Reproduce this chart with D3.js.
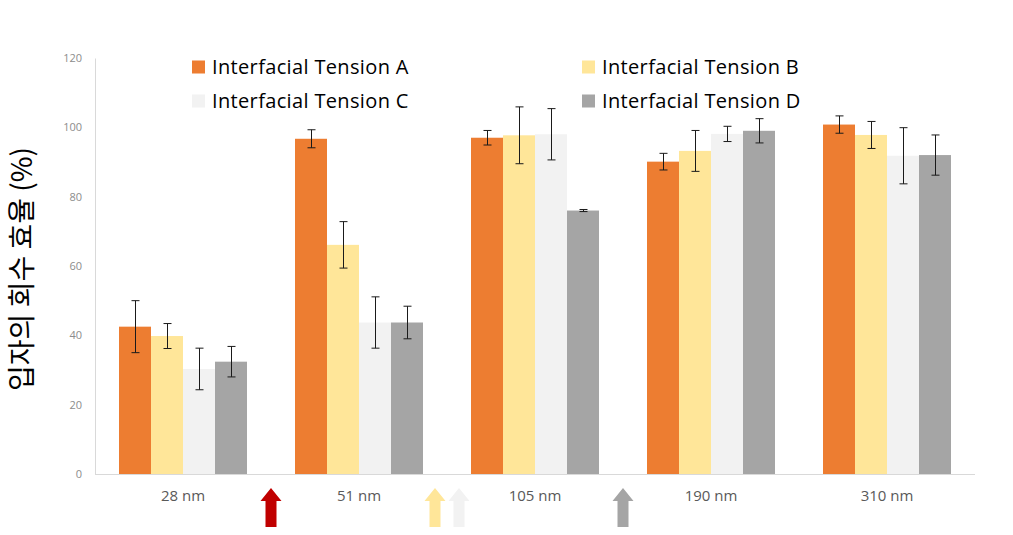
<!DOCTYPE html>
<html><head><meta charset="utf-8">
<script src="https://cdn.jsdelivr.net/npm/d3@7"></script>
<style>body{margin:0;background:#fff}svg{display:block}</style>
</head><body>
<svg id="chart" width="1013" height="535"></svg>
<script>
const categories = ["28 nm", "51 nm", "105 nm", "190 nm", "310 nm"];
const seriesNames = ["Interfacial Tension A", "Interfacial Tension B", "Interfacial Tension C", "Interfacial Tension D"];
const valuesA = [42.5, 96.7, 97.0, 90.1, 100.8];
const valuesB = [39.8, 66.1, 97.7, 93.2, 97.8];
const valuesC = [30.3, 43.7, 98.0, 98.1, 91.8];
const valuesD = [32.4, 43.7, 76.0, 99.0, 92.0];
const errorsA = [7.5, 2.6, 2.1, 2.4, 2.5];
const errorsB = [3.6, 6.7, 8.2, 5.9, 3.9];
const errorsC = [6.0, 7.4, 7.4, 2.2, 8.1];
const errorsD = [4.4, 4.7, 0.3, 3.5, 5.8];
const yTicks = [0, 20, 40, 60, 80, 100, 120];
const yTitle = "입자의 회수 효율 (%)";
const colors = ["#ED7D31", "#FFE699", "#F2F2F2", "#A5A5A5"];
const arrowCats = [{pos: 0.5, color: "#C00000"}, {pos: 1.5, color: "#FFE699", dx: -12}, {pos: 1.5, color: "#F2F2F2", dx: 12}, {pos: 2.5, color: "#A5A5A5"}];

const values = [valuesA, valuesB, valuesC, valuesD];
const errors = [errorsA, errorsB, errorsC, errorsD];

const svg = d3.select("#chart");
const m = {left: 95, right: 975, top: 58, bottom: 474};
const x = d3.scaleBand().domain(categories).range([m.left, m.right]).paddingInner(48/176).paddingOuter(24/176);
const xs = d3.scaleBand().domain(seriesNames).range([0, x.bandwidth()]);
const y = d3.scaleLinear().domain([0, 120]).range([m.bottom, m.top]);

// y axis
const yAxis = svg.append("g").attr("transform", `translate(${m.left},0)`)
  .call(d3.axisLeft(y).tickValues(yTicks).tickSize(0).tickPadding(13));
yAxis.select(".domain").attr("stroke", "#D9D9D9");
yAxis.selectAll("text").attr("fill", "#8C8C8C").style("font-family", "'Open Sans', 'Noto Sans', sans-serif").style("font-size", "11px");

// x axis
const xAxis = svg.append("g").attr("transform", `translate(0,${m.bottom})`)
  .call(d3.axisBottom(x).tickSize(0).tickPadding(16));
xAxis.select(".domain").attr("stroke", "#D9D9D9").attr("d", `M${m.left},0.5H${m.right}`);
xAxis.selectAll("text").attr("fill", "#595959").style("font-family", "'Open Sans', 'Noto Sans', sans-serif").style("font-size", "15px");

// bars
const data = [];
categories.forEach((c, i) => seriesNames.forEach((s, j) => data.push({c, s, j, v: values[j][i], e: errors[j][i]})));
svg.append("g").selectAll("rect").data(data).join("rect")
  .attr("x", d => x(d.c) + xs(d.s))
  .attr("y", d => y(d.v))
  .attr("width", xs.bandwidth())
  .attr("height", d => y(0) - y(d.v))
  .attr("fill", d => colors[d.j]);

// error bars
const eg = svg.append("g").attr("stroke", "#1a1a1a").attr("stroke-width", 1);
data.forEach(d => {
  const cx = Math.round(x(d.c) + xs(d.s) + xs.bandwidth() / 2) + 0.5;
  const y1 = y(d.v + d.e), y2 = y(d.v - d.e);
  eg.append("line").attr("x1", cx).attr("x2", cx).attr("y1", y1).attr("y2", y2);
  eg.append("line").attr("x1", cx - 4).attr("x2", cx + 4).attr("y1", y1).attr("y2", y1);
  eg.append("line").attr("x1", cx - 4).attr("x2", cx + 4).attr("y1", y2).attr("y2", y2);
});

// legend
const legPos = [[192, 67], [582, 67], [192, 101], [582, 101]];
seriesNames.forEach((s, j) => {
  const [lx, ly] = legPos[j];
  svg.append("rect").attr("x", lx).attr("y", ly - 6.5).attr("width", 13).attr("height", 13).attr("fill", colors[j]);
  svg.append("text").attr("x", lx + 20).attr("y", ly).attr("dy", "0.36em")
    .attr("fill", "#000").style("font-family", "'Open Sans', 'Noto Sans', sans-serif").style("font-size", "20px")
    .style("letter-spacing", "0.35px")
    .text(s);
});

// y title
svg.append("text").attr("transform", `translate(22,269) rotate(-90)`)
  .attr("text-anchor", "middle").attr("dy", "0.35em")
  .style("font-family", "'Noto Sans CJK KR', sans-serif").style("font-size", "28px").attr("fill", "#000")
  .text(yTitle);

// arrows between categories
const step = x.step();
arrowCats.forEach(a => {
  const cx = x(categories[0]) + x.bandwidth() / 2 + a.pos * step + (a.dx || 0);
  const top = 488, headB = 501, bot = 527;
  const hw = 10.5, sw = 5.5;
  const pts = [[cx, top], [cx + hw, headB], [cx + sw, headB], [cx + sw, bot], [cx - sw, bot], [cx - sw, headB], [cx - hw, headB]];
  svg.append("polygon").attr("points", pts.map(p => p.join(",")).join(" ")).attr("fill", a.color);
});
</script>
</body></html>
